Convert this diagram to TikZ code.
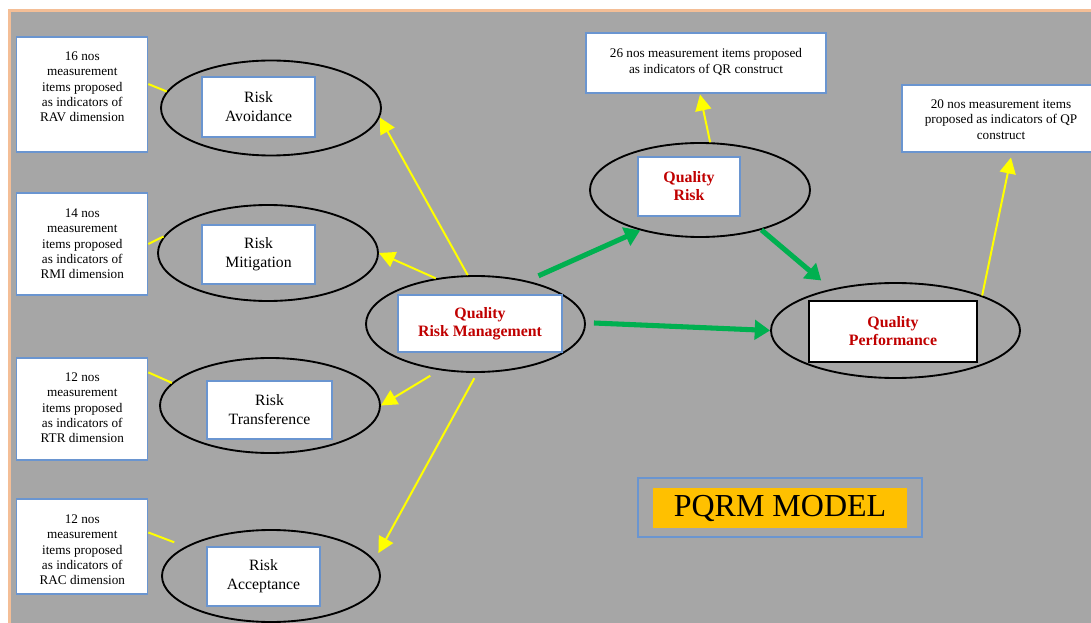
\documentclass[tikz,border=0pt]{standalone}
\usepackage{fontspec}
\setmainfont{Liberation Serif}
\usetikzlibrary{shapes.geometric,arrows.meta}
\definecolor{bggray}{HTML}{A6A6A6}
\definecolor{framepeach}{HTML}{F4BE96}
\definecolor{boxblue}{HTML}{6A95D0}
\definecolor{qred}{HTML}{C00000}
\definecolor{linkyellow}{HTML}{FFFF00}
\definecolor{linkgreen}{HTML}{00B050}
\definecolor{tagorange}{HTML}{FFC000}
\begin{document}
\begin{tikzpicture}[x=0.75pt,y=-0.75pt,
  oval/.style={ellipse, draw=black, line width=1.4pt, inner sep=0pt,
    minimum width=165pt, minimum height=71.25pt},
  dimbox/.style={draw=boxblue, line width=0.8pt, fill=white, align=center,
    inner sep=0pt, font=\fontsize{11.8}{14.3}\selectfont},
  keybox/.style={draw=boxblue, line width=0.8pt, fill=white, align=center,
    inner sep=0pt, text=qred, font=\bfseries\fontsize{11.9}{13.5}\selectfont},
  notebox/.style={draw=boxblue, line width=0.8pt, fill=white, inner sep=0pt},
  notetext/.style={align=center, anchor=north, inner sep=0pt,
    font=\fontsize{9.9}{11.5}\selectfont},
  ylink/.style={draw=linkyellow, line width=1.5pt},
  yarrow/.style={ylink, -{Triangle[length=12pt,width=12pt]}},
  garrow/.style={draw=linkgreen, line width=3.8pt,
    -{Triangle[length=11.5pt,width=14.5pt]}}]
\useasboundingbox (0,0) rectangle (1091,623);
\clip (0,0) rectangle (1091,623);

% page frame and grey canvas
\fill[white] (0,0) rectangle (1091,623);
\fill[framepeach] (8,9) rectangle (1091,623);
\fill[bggray] (11,12) rectangle (1091,623);

% dimension ellipses with their labels
\node[oval] (ra)  at (271,108) {};
\node[oval, minimum height=72pt] (rm)  at (268,253) {};
\node[oval] (rt)  at (270,405.5) {};
\node[oval, minimum width=163.5pt, minimum height=69pt] (rac) at (271,576) {};
\node[dimbox, minimum width=84.75pt, minimum height=45pt]   (rab)  at (258.5,107) {Risk\\Avoidance};
\node[dimbox, minimum width=84.75pt, minimum height=44.25pt] (rmb)  at (258.5,254.5) {Risk\\Mitigation};
\node[dimbox, minimum width=93.75pt, minimum height=43.5pt] (rtb)  at (269.5,410) {Risk\\Transference};
\node[dimbox, minimum width=84.75pt, minimum height=44.25pt] (racb) at (263.5,576.5) {Risk\\Acceptance};

% indicator notes on the left
\node[notebox, minimum width=98.25pt, minimum height=86.25pt] (n1) at (82.3,94.5) {};
\node[notebox, minimum width=98.25pt, minimum height=76.5pt]  (n2) at (82.3,244) {};
\node[notebox, minimum width=98.25pt, minimum height=76.5pt]  (n3) at (82.3,409) {};
\node[notebox, minimum width=98.25pt, minimum height=71.25pt] (n4) at (82.3,546.5) {};
\node[notetext] (n1t) at ([yshift=-11.25pt]n1.north) {16 nos\\measurement\\items proposed\\as indicators of\\RAV dimension};
\node[notetext] (n2t) at ([yshift=-12pt]n2.north) {14 nos\\measurement\\items proposed\\as indicators of\\RMI dimension};
\node[notetext] (n3t) at ([yshift=-11.25pt]n3.north) {12 nos\\measurement\\items proposed\\as indicators of\\RTR dimension};
\node[notetext] (n4t) at ([yshift=-12pt]n4.north) {12 nos\\measurement\\items proposed\\as indicators of\\RAC dimension};

% central constructs
\node[oval, minimum width=164.25pt, minimum height=72pt] (qrm) at (475.5,324) {};
\node[oval, minimum width=165pt, minimum height=70.5pt] (qr) at (700,190) {};
\node[oval, minimum width=186.75pt, minimum height=71.25pt] (qp) at (895.5,330.5) {};
\node[keybox, minimum width=123pt, minimum height=42.75pt] (qrmb) at (480,323.5) {Quality\\Risk Management};
\node[keybox, minimum width=76.5pt, minimum height=44.25pt] (qrb) at (689,186.5) {Quality\\Risk};
\node[keybox, draw=black, line width=2pt, minimum width=126pt, minimum height=45.75pt] (qpb) at (893,331.5) {Quality\\Performance};

% construct notes
\node[notebox, minimum width=180pt, minimum height=45pt] (qrn) at (706,63) {};
\node[notetext] (qrnt) at ([yshift=-12pt]qrn.north) {26 nos measurement items proposed\\as indicators of QR construct};
\node[notebox, minimum width=148.5pt, minimum height=50.25pt] (qpn) at (1001,118.5) {};
\node[notetext] (qpnt) at ([yshift=-11.25pt]qpn.north) {20 nos measurement items\\proposed as indicators of QP\\construct};

% model tag
\node[draw=boxblue, line width=0.8pt, minimum width=213pt, minimum height=44.25pt, inner sep=0pt] (tagframe) at (780,507.5) {};
\node[fill=tagorange, minimum width=190.5pt, minimum height=30pt, inner sep=0pt,
  font=\fontsize{24}{28}\selectfont] (tag) at (780,508) {PQRM MODEL};

% notes to dimensions
\draw[ylink] (n1.9) -- (ra.171);
\draw[ylink] (n2.east) -- (rm.171);
\draw[ylink] (n3.29) -- (rt.167);
\draw[ylink, shorten >=9pt] (n4.12) -- (rac.161);

% management to dimensions
\draw[yarrow] (qrm.99) -- (ra.-5);
\draw[yarrow] (qrm.131) -- (rm.east);
\draw[yarrow, shorten <=8pt] (qrm.-128) -- (rt.east);
\draw[yarrow, shorten <=4.5pt] (qrm.-88) -- ([shift={(9,-2)}]rac.12);

% constructs to their notes
\draw[yarrow] (qr.78) -- ([shift={(-6,1)}]qrn.south);
\draw[yarrow] (qp.22) -- ([shift={(10,5)}]qpn.south);

% structural paths
\draw[garrow] ([shift={(7,-6)}]qrm.37) -- (qr.-146);
\draw[garrow] ([shift={(8,-1)}]qrm.east) -- (qp.west);
\draw[garrow] (qr.-33) -- ([shift={(-12,-8)}]qp.146);
\end{tikzpicture}
\end{document}
